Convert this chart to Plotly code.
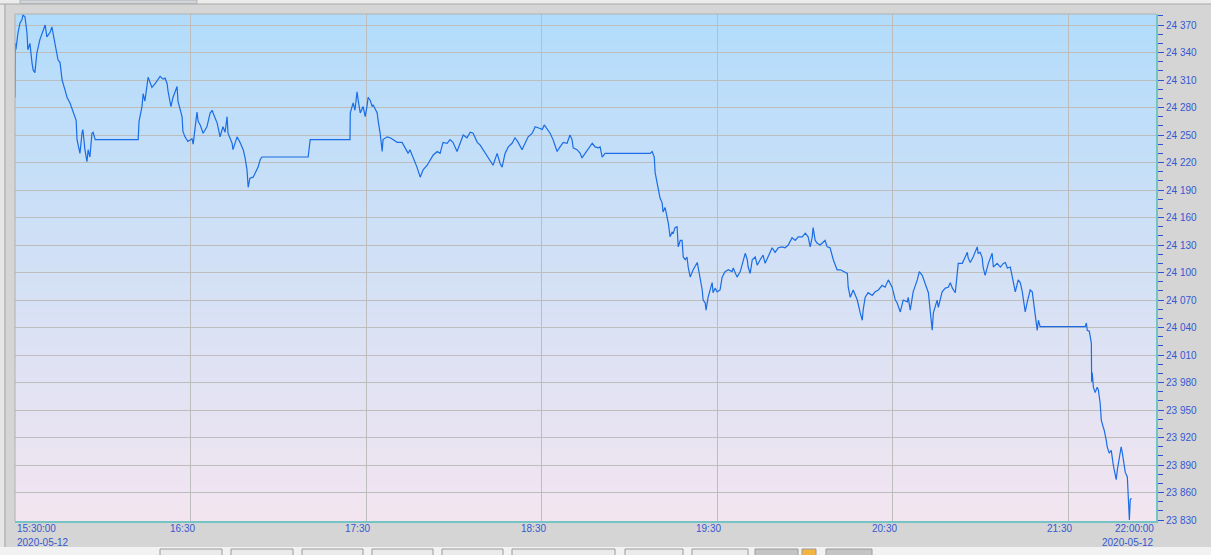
"""
Intraday price line 2020-05-12, 15:30 - 22:00
"""
import base64
import struct
import zlib

import pandas as pd
import plotly.graph_objects as go

# data: minutes after 15:30 and price
minutes = [
    0.0, 0.1, 0.3, 1.0, 1.7, 2.4, 2.7, 3.4, 4.1, 4.4,
    5.1, 5.8, 6.2, 6.8, 7.5, 8.5, 9.6, 10.3, 10.9, 12.0,
    12.6, 13.0, 13.7, 14.7, 15.4, 16.1, 17.1, 17.8, 18.8, 19.8,
    20.9, 21.2, 22.2, 22.9, 23.2, 23.9, 24.6, 25.0, 25.6, 26.3,
    26.7, 27.4, 42.1, 42.4, 43.4, 43.8, 44.4, 45.5, 46.8, 47.9,
    48.9, 49.6, 50.6, 51.3, 52.0, 52.3, 53.3, 54.0, 55.4, 55.7,
    57.1, 57.4, 58.1, 59.1, 60.5, 60.9, 62.2, 62.6, 63.3, 64.3,
    65.6, 66.7, 67.4, 67.7, 69.1, 70.1, 70.8, 71.1, 71.8, 72.5,
    72.8, 74.2, 74.5, 75.9, 76.9, 78.0, 78.6, 79.3, 79.7, 80.3,
    81.4, 82.7, 83.1, 83.8, 84.4, 100.2, 100.9, 114.5, 114.6, 115.2,
    115.6, 116.2, 116.9, 117.3, 118.0, 119.0, 119.7, 120.3, 120.7, 121.4,
    122.1, 122.4, 123.8, 124.1, 124.8, 125.5, 125.8, 127.2, 128.2, 129.2,
    130.6, 132.3, 133.3, 134.4, 135.0, 136.1, 137.4, 138.5, 139.5, 140.9,
    141.9, 142.9, 144.3, 145.3, 146.3, 147.7, 148.7, 149.7, 151.1, 152.1,
    153.2, 154.5, 155.6, 156.6, 158.0, 159.0, 160.0, 161.4, 162.4, 163.4,
    164.8, 165.8, 166.5, 167.5, 168.6, 169.9, 170.9, 172.0, 173.3, 174.4,
    175.4, 176.8, 177.8, 178.8, 180.2, 180.9, 181.9, 182.9, 183.9, 185.3,
    186.3, 187.4, 188.7, 189.7, 190.4, 190.8, 192.1, 193.2, 193.8, 194.9,
    195.9, 197.3, 198.3, 199.3, 200.0, 200.7, 201.7, 217.1, 217.8, 218.5,
    218.8, 219.5, 219.8, 220.5, 221.2, 221.5, 222.2, 222.9, 223.3, 223.9,
    224.6, 225.0, 225.6, 226.3, 226.7, 227.4, 228.0, 228.4, 229.1, 229.7,
    230.1, 230.8, 231.8, 233.2, 233.5, 234.2, 234.9, 235.2, 235.9, 236.2,
    236.9, 237.6, 238.3, 238.6, 239.3, 240.0, 241.0, 241.7, 242.7, 243.8,
    245.1, 245.5, 246.8, 247.9, 248.6, 249.6, 250.3, 250.6, 251.3, 252.0,
    253.0, 253.7, 254.7, 255.7, 256.4, 257.4, 258.8, 259.8, 260.9, 262.2,
    263.2, 264.3, 265.6, 266.7, 267.7, 269.1, 270.1, 271.1, 271.8, 272.5,
    272.8, 273.5, 274.2, 275.2, 276.3, 276.9, 277.6, 278.6, 279.7, 281.0,
    282.1, 283.1, 284.5, 284.8, 285.5, 286.5, 287.9, 288.9, 289.6, 289.9,
    290.6, 291.6, 293.0, 294.0, 295.1, 296.4, 297.4, 298.5, 299.8, 300.9,
    301.5, 302.6, 303.6, 305.0, 305.3, 306.0, 307.0, 308.4, 309.1, 310.1,
    311.1, 312.2, 312.8, 313.5, 313.9, 315.2, 315.6, 316.9, 318.0, 319.0,
    319.7, 320.4, 321.4, 322.1, 322.4, 323.8, 324.8, 325.5, 325.8, 326.5,
    327.5, 328.9, 329.2, 329.9, 330.6, 330.9, 331.6, 332.7, 334.0, 334.4,
    335.7, 336.8, 337.8, 338.5, 339.2, 340.2, 340.9, 341.9, 342.9, 343.6,
    344.3, 345.3, 346.0, 347.0, 347.7, 348.1, 348.7, 349.4, 349.8, 350.4,
    365.8, 366.2, 366.5, 367.2, 367.9, 368.0, 368.2, 368.6, 369.2, 369.9,
    370.3, 370.9, 371.3, 372.0, 372.3, 373.0, 373.3, 374.0, 374.7, 375.4,
    375.7, 376.4, 376.8, 377.4, 378.1, 378.5, 378.8, 379.5, 380.2, 380.5,
    380.9, 381.2, 381.6,
]

prices = [
    24.291, 24.350, 24.343, 24.361, 24.372, 24.376, 24.381, 24.379, 24.361, 24.343,
    24.350, 24.329, 24.321, 24.318, 24.340, 24.354, 24.365, 24.370, 24.357, 24.362,
    24.368, 24.361, 24.350, 24.332, 24.329, 24.310, 24.299, 24.291, 24.285, 24.277,
    24.266, 24.245, 24.230, 24.252, 24.256, 24.234, 24.221, 24.234, 24.226, 24.252,
    24.253, 24.245, 24.245, 24.265, 24.281, 24.295, 24.287, 24.313, 24.302, 24.306,
    24.311, 24.314, 24.311, 24.312, 24.306, 24.298, 24.281, 24.291, 24.303, 24.287,
    24.270, 24.254, 24.248, 24.243, 24.246, 24.240, 24.275, 24.265, 24.261, 24.252,
    24.259, 24.274, 24.277, 24.274, 24.263, 24.248, 24.256, 24.259, 24.253, 24.270,
    24.252, 24.241, 24.234, 24.248, 24.242, 24.234, 24.226, 24.212, 24.193, 24.203,
    24.204, 24.212, 24.215, 24.223, 24.226, 24.226, 24.245, 24.245, 24.274, 24.281,
    24.285, 24.277, 24.297, 24.288, 24.274, 24.281, 24.270, 24.281, 24.291, 24.288,
    24.281, 24.283, 24.274, 24.266, 24.252, 24.232, 24.245, 24.248, 24.247, 24.245,
    24.242, 24.242, 24.237, 24.230, 24.234, 24.226, 24.215, 24.204, 24.212, 24.217,
    24.223, 24.228, 24.232, 24.230, 24.242, 24.241, 24.245, 24.242, 24.232, 24.241,
    24.250, 24.247, 24.253, 24.252, 24.242, 24.239, 24.234, 24.226, 24.221, 24.217,
    24.230, 24.219, 24.215, 24.230, 24.237, 24.241, 24.247, 24.242, 24.234, 24.242,
    24.248, 24.252, 24.259, 24.258, 24.256, 24.261, 24.256, 24.252, 24.245, 24.232,
    24.237, 24.242, 24.241, 24.250, 24.245, 24.236, 24.234, 24.230, 24.225, 24.230,
    24.234, 24.241, 24.237, 24.236, 24.237, 24.226, 24.230, 24.230, 24.232, 24.226,
    24.209, 24.198, 24.190, 24.181, 24.176, 24.166, 24.171, 24.161, 24.154, 24.139,
    24.144, 24.143, 24.149, 24.150, 24.128, 24.135, 24.135, 24.117, 24.114, 24.117,
    24.106, 24.095, 24.103, 24.111, 24.106, 24.092, 24.081, 24.070, 24.067, 24.059,
    24.073, 24.081, 24.089, 24.078, 24.083, 24.079, 24.081, 24.095, 24.101, 24.103,
    24.101, 24.105, 24.095, 24.101, 24.110, 24.121, 24.114, 24.106, 24.099, 24.114,
    24.117, 24.108, 24.114, 24.119, 24.110, 24.117, 24.127, 24.122, 24.127, 24.128,
    24.127, 24.130, 24.138, 24.135, 24.139, 24.139, 24.143, 24.139, 24.128, 24.139,
    24.149, 24.135, 24.132, 24.130, 24.133, 24.135, 24.128, 24.127, 24.114, 24.103,
    24.103, 24.101, 24.099, 24.084, 24.073, 24.081, 24.070, 24.056, 24.048, 24.059,
    24.073, 24.078, 24.075, 24.079, 24.081, 24.086, 24.084, 24.092, 24.084, 24.070,
    24.067, 24.057, 24.070, 24.068, 24.073, 24.059, 24.079, 24.092, 24.101, 24.097,
    24.089, 24.078, 24.059, 24.037, 24.056, 24.070, 24.062, 24.079, 24.083, 24.084,
    24.089, 24.083, 24.078, 24.099, 24.110, 24.110, 24.117, 24.122, 24.116, 24.111,
    24.117, 24.128, 24.121, 24.122, 24.116, 24.106, 24.097, 24.110, 24.121, 24.106,
    24.110, 24.106, 24.110, 24.111, 24.105, 24.106, 24.095, 24.079, 24.092, 24.089,
    24.079, 24.057, 24.068, 24.081, 24.079, 24.070, 24.051, 24.037, 24.048, 24.041,
    24.041, 24.045, 24.037, 24.036, 24.023, 23.981, 23.991, 23.975, 23.969, 23.975,
    23.972, 23.958, 23.939, 23.931, 23.928, 23.917, 23.910, 23.903, 23.906, 23.890,
    23.885, 23.874, 23.885, 23.899, 23.910, 23.903, 23.895, 23.882, 23.877, 23.861,
    23.830, 23.852, 23.854,
]

hour_ticks = ['16:30', '17:30', '18:30', '19:30', '20:30', '21:30']
y_ticks = [23.830 + 0.030 * i for i in range(19)]
y_labels = [f'{v:.3f}'.replace('.', ' ') for v in y_ticks]
day = '2020-05-12'

start = pd.Timestamp(f'{day} 15:30')
end = pd.Timestamp(f'{day} 22:00')
times = start + pd.to_timedelta(minutes, unit='m')

BLUE_TXT = '#3558d2'
TICK_BLUE = '#2b52d4'
TEAL = '#74c4c4'
GRID = '#bdbdbd'


def gradient_png(top, bottom, h=256):
    raw = b''
    for i in range(h):
        t = i / (h - 1)
        raw += b'\x00' + bytes(round(top[k] + (bottom[k] - top[k]) * t) for k in range(3)) * 2

    def chunk(tag, data):
        return struct.pack('>I', len(data)) + tag + data + struct.pack('>I', zlib.crc32(tag + data) & 0xffffffff)

    png = (b'\x89PNG\r\n\x1a\n'
           + chunk(b'IHDR', struct.pack('>IIBBBBB', 2, h, 8, 2, 0, 0, 0))
           + chunk(b'IDAT', zlib.compress(raw))
           + chunk(b'IEND', b''))
    return 'data:image/png;base64,' + base64.b64encode(png).decode()


fig = go.Figure()
fig.add_trace(go.Scatter(x=times, y=prices, mode='lines',
                         line=dict(color='#1a6de6', width=1.2), hoverinfo='x+y'))

# plot geometry in px (for chrome shapes)
L, R, T, B = 15, 1156, 14, 521
W, H = R - L, B - T


def px(x):
    return (x - L) / W


def py(y):
    return (B - y) / H


shapes = [
    # window chrome: top strip, left strip, bottom toolbar
    dict(type='rect', xref='paper', yref='paper', x0=px(0), x1=px(1211), y0=py(4), y1=py(0),
         fillcolor='#ececec', line_width=0, layer='below'),
    dict(type='line', xref='paper', yref='paper', x0=px(0), x1=px(1211), y0=py(4), y1=py(4),
         line=dict(color='#a8a8a8', width=1)),
    dict(type='rect', xref='paper', yref='paper', x0=px(20), x1=px(197), y0=py(3.5), y1=py(0),
         fillcolor='#d0d6dc', line=dict(color='#b4b4b4', width=1)),
    dict(type='rect', xref='paper', yref='paper', x0=px(0), x1=px(4), y0=py(555), y1=py(4),
         fillcolor='#e6e6e6', line_width=0, layer='below'),
    dict(type='line', xref='paper', yref='paper', x0=px(5), x1=px(5), y0=py(547), y1=py(4),
         line=dict(color='#a8a8a8', width=1)),
    dict(type='rect', xref='paper', yref='paper', x0=px(0), x1=px(1211), y0=py(555), y1=py(547),
         fillcolor='#f2f2f2', line_width=0, layer='below'),
    # plot frame top/left
    dict(type='line', xref='paper', yref='paper', x0=0, x1=1, y0=1, y1=1,
         line=dict(color='#b0b0b0', width=1)),
    dict(type='line', xref='paper', yref='paper', x0=0, x1=0, y0=0, y1=1,
         line=dict(color='#b0b0b0', width=1)),
]
buttons = [(160, 222, '#ebebeb'), (231, 293, '#ebebeb'), (302, 363, '#ebebeb'),
           (372, 433, '#ebebeb'), (442, 503, '#ebebeb'), (512, 615, '#ebebeb'),
           (625, 683, '#ebebeb'), (692, 748, '#ebebeb'), (755, 798, '#c4c4c4'),
           (802, 816, '#f2b640'), (826, 872, '#c4c4c4')]
for x0, x1, c in buttons:
    shapes.append(dict(type='rect', xref='paper', yref='paper', x0=px(x0), x1=px(x1),
                       y0=py(560), y1=py(549), fillcolor=c, line=dict(color='#9a9a9a', width=1)))

annotations = []
font = dict(family='Liberation Sans, Arial, sans-serif', size=10, color=BLUE_TXT)
for h in hour_ticks:
    annotations.append(dict(x=pd.Timestamp(f'{day} {h}'), y=0, xref='x', yref='paper',
                            text=h, showarrow=False, xanchor='right', yanchor='middle',
                            xshift=6, yshift=-7, font=font))
annotations += [
    dict(x=start, y=0, xref='x', yref='paper', text='15:30:00', showarrow=False,
         xanchor='left', yanchor='middle', yshift=-7, font=font),
    dict(x=start, y=0, xref='x', yref='paper', text=day, showarrow=False,
         xanchor='left', yanchor='middle', yshift=-21, font=font),
    dict(x=end, y=0, xref='x', yref='paper', text='22:00:00', showarrow=False,
         xanchor='right', yanchor='middle', yshift=-7, font=font),
    dict(x=end, y=0, xref='x', yref='paper', text=day, showarrow=False,
         xanchor='right', yanchor='middle', yshift=-21, font=font),
]

fig.update_layout(
    width=1211, height=555,
    margin=dict(l=L, r=1211 - R, t=T, b=555 - B),
    paper_bgcolor='#d5d5d5',
    plot_bgcolor='rgba(0,0,0,0)',
    showlegend=False,
    shapes=shapes,
    annotations=annotations,
    images=[dict(source=gradient_png((178, 220, 251), (243, 229, 240)),
                 xref='paper', yref='paper', x=0, y=1, sizex=1, sizey=1,
                 sizing='stretch', layer='below')],
    xaxis=dict(type='date', range=[start, end],
               tickvals=[pd.Timestamp(f'{day} {h}') for h in hour_ticks],
               showticklabels=False, ticks='',
               showgrid=True, gridcolor=GRID, gridwidth=1,
               showline=True, linecolor=TEAL, linewidth=2,
               zeroline=False),
    yaxis=dict(side='right', range=[23.829, 24.382],
               tickvals=y_ticks, ticktext=y_labels,
               ticks='outside', ticklen=6, tickwidth=1, tickcolor=TICK_BLUE,
               tickfont=font,
               minor=dict(dtick=0.01, tick0=23.83, ticks='outside', ticklen=5,
                          tickwidth=1, tickcolor=TICK_BLUE, showgrid=False),
               showgrid=True, gridcolor=GRID, gridwidth=1,
               showline=True, linecolor=TEAL, linewidth=2,
               zeroline=False),
)

fig.write_html('out.html', config={'displayModeBar': False},
               post_script="document.body.style.margin='0';document.body.style.overflow='hidden';")
